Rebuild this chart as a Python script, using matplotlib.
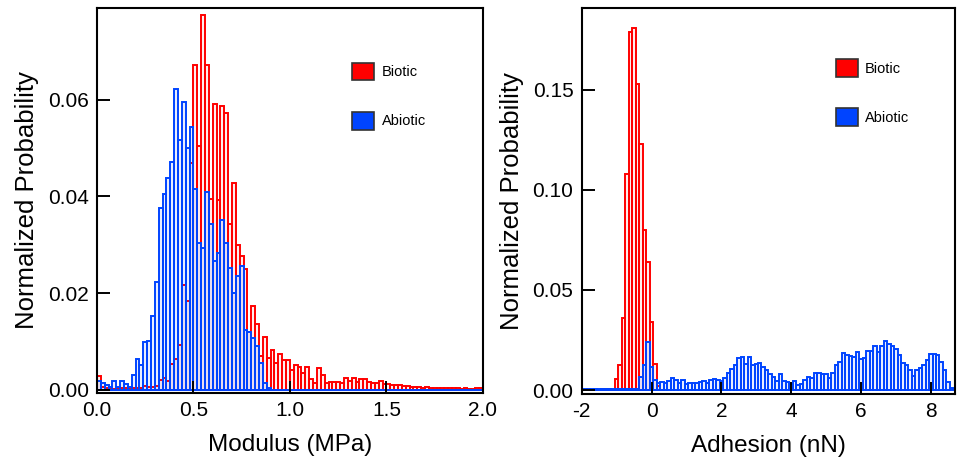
import numpy as np
import matplotlib
matplotlib.use("Agg")
import matplotlib.pyplot as plt
from matplotlib.patches import Patch

plt.rcParams["font.family"] = ["Liberation Sans", "DejaVu Sans"]
plt.rcParams["axes.unicode_minus"] = False

RED = "#ff0000"
BLUE = "#0044ff"
RED_FACE = (1.0, 0.0, 0.0, 0.07)
BLUE_FACE = (0.0, 0.27, 1.0, 0.09)

# ---- modulus histogram: bins of 0.02 MPa starting at 0 ----
MOD_BIN = 0.02
mod_biotic = [
    0.0029, 0.0005, 0.0003, 0.0002, 0.0002, 0.0004, 0.0004, 0.0004, 0.0002, 0.0003,
    0.0003, 0.0004, 0.0008, 0.0006, 0.0006, 0.0008, 0.0020, 0.0024, 0.0017, 0.0054,
    0.0063, 0.0092, 0.0217, 0.0184, 0.0469, 0.0671, 0.0504, 0.0775, 0.0671, 0.0394,
    0.0592, 0.0392, 0.0586, 0.0572, 0.0343, 0.0428, 0.0300, 0.0276, 0.0250, 0.0120,
    0.0173, 0.0135, 0.0069, 0.0110, 0.0065, 0.0083, 0.0055, 0.0073, 0.0062, 0.0062,
    0.0040, 0.0052, 0.0048, 0.0035, 0.0048, 0.0022, 0.0014, 0.0045, 0.0030, 0.0014,
    0.0015, 0.0016, 0.0015, 0.0014, 0.0024, 0.0018, 0.0024, 0.0015, 0.0022, 0.0022,
    0.0016, 0.0014, 0.0014, 0.0019, 0.0012, 0.0011, 0.0010, 0.0010, 0.0009, 0.0008,
    0.0008, 0.0006, 0.0005, 0.0005, 0.0004, 0.0005, 0.0004, 0.0003, 0.0004, 0.0004,
    0.0003, 0.0003, 0.0003, 0.0003, 0.0002, 0.0003, 0.0002, 0.0002, 0.0003, 0.0003,
]
mod_abiotic = [
    0.0017, 0.0014, 0.0010, 0.0005, 0.0017, 0.0005, 0.0017, 0.0012, 0.0005, 0.0031,
    0.0063, 0.0052, 0.0099, 0.0101, 0.0153, 0.0222, 0.0376, 0.0404, 0.0438, 0.0472,
    0.0622, 0.0517, 0.0595, 0.0500, 0.0543, 0.0415, 0.0304, 0.0294, 0.0409, 0.0342,
    0.0266, 0.0282, 0.0352, 0.0304, 0.0252, 0.0200, 0.0235, 0.0256, 0.0124, 0.0120,
    0.0107, 0.0090, 0.0055, 0.0014, 0.0003, 0.0, 0.0, 0.0, 0.0, 0.0,
    0.0, 0.0, 0.0, 0.0, 0.0, 0.0, 0.0, 0.0, 0.0, 0.0,
    0.0, 0.0, 0.0, 0.0, 0.0, 0.0, 0.0, 0.0, 0.0, 0.0,
    0.0, 0.0, 0.0, 0.0, 0.0, 0.0, 0.0, 0.0, 0.0, 0.0,
    0.0, 0.0, 0.0, 0.0, 0.0, 0.0, 0.0, 0.0, 0.0, 0.0,
    0.0, 0.0, 0.0, 0.0, 0.0, 0.0, 0.0, 0.0, 0.0, 0.0,
]

# ---- adhesion histogram: bins of 0.1 nN centred from -2.0 ----
ADH_BIN = 0.1
ADH_START = -2.0
adh_biotic = [
    0.0, 0.0, 0.0, 0.0, 0.0, 0.0, 0.0005, 0.0005, 0.0005, 0.0,
    0.0053, 0.0125, 0.0360, 0.1080, 0.1790, 0.1810, 0.1530, 0.1230, 0.0800, 0.0640,
    0.0340, 0.0130, 0.0020, 0.0,
]
adh_abiotic = [
    0.0003, 0.0003, 0.0003, 0.0003, 0.0003, 0.0003, 0.0003, 0.0003, 0.0003, 0.0003,
    0.0003, 0.0003, 0.0003, 0.0003, 0.0003, 0.0003, 0.0003, 0.0067, 0.0125, 0.0240,
    0.0115, 0.0050, 0.0033, 0.0042, 0.0033, 0.0045, 0.0058, 0.0050, 0.0037, 0.0050,
    0.0030, 0.0033, 0.0033, 0.0033, 0.0042, 0.0045, 0.0033, 0.0050, 0.0053, 0.0050,
    0.0045, 0.0058, 0.0083, 0.0104, 0.0125, 0.0159, 0.0167, 0.0130, 0.0167, 0.0125,
    0.0128, 0.0134, 0.0117, 0.0100, 0.0078, 0.0064, 0.0047, 0.0078, 0.0047, 0.0042,
    0.0028, 0.0045, 0.0025, 0.0028, 0.0050, 0.0064, 0.0058, 0.0083, 0.0083, 0.0080,
    0.0080, 0.0058, 0.0083, 0.0125, 0.0142, 0.0184, 0.0175, 0.0170, 0.0167, 0.0192,
    0.0154, 0.0159, 0.0197, 0.0197, 0.0220, 0.0192, 0.0220, 0.0247, 0.0230, 0.0220,
    0.0204, 0.0175, 0.0137, 0.0125, 0.0100, 0.0070, 0.0100, 0.0108, 0.0125, 0.0150,
    0.0180, 0.0180, 0.0175, 0.0140, 0.0100, 0.0040, 0.0010,
]

mod_ticks = [0.0, 0.5, 1.0, 1.5, 2.0]
mod_yticks = [0.00, 0.02, 0.04, 0.06]
adh_ticks = [-2, 0, 2, 4, 6, 8]
adh_yticks = [0.00, 0.05, 0.10, 0.15]


def style_axes(ax):
    for sp in ax.spines.values():
        sp.set_linewidth(1.5)
    ax.tick_params(direction="in", length=9, width=1.4, labelsize=15, pad=6,
                   top=False, right=False)
    ax.set_ylabel("Normalized Probability", fontsize=18.5, labelpad=6)


def add_legend(ax, anchor):
    handles = [Patch(facecolor=RED, edgecolor="#333333", linewidth=1.2, label="Biotic"),
               Patch(facecolor=BLUE, edgecolor="#333333", linewidth=1.2, label="Abiotic")]
    ax.legend(handles=handles, loc="upper left", bbox_to_anchor=anchor, frameon=False,
              fontsize=10.5, handlelength=1.5, handleheight=1.5, handletextpad=0.5,
              labelspacing=2.15, borderpad=0, borderaxespad=0)


fig = plt.figure(figsize=(9.6, 4.63), dpi=100)

# left: modulus
ax1 = fig.add_axes([0.101, 0.151, 0.402, 0.832])
x_mod = np.arange(len(mod_biotic)) * MOD_BIN
ax1.bar(x_mod, mod_biotic, width=MOD_BIN, align="edge", facecolor=RED_FACE,
        edgecolor=RED, linewidth=1.4)
ax1.bar(x_mod, mod_abiotic, width=MOD_BIN, align="edge", facecolor=BLUE_FACE,
        edgecolor=BLUE, linewidth=1.4)
ax1.set_xlim(0, 2.0)
ax1.set_ylim(-0.0007, 0.079)
ax1.set_xticks(mod_ticks)
ax1.set_xticklabels([f"{v:.1f}" for v in mod_ticks])
ax1.set_yticks(mod_yticks)
ax1.set_yticklabels([f"{v:.2f}" for v in mod_yticks])
ax1.set_xlabel("Modulus (MPa)", fontsize=17.5, labelpad=10)
style_axes(ax1)
add_legend(ax1, (0.662, 0.858))

# right: adhesion
ax2 = fig.add_axes([0.606, 0.149, 0.389, 0.834])
x_bio = ADH_START + np.arange(len(adh_biotic)) * ADH_BIN
x_abio = ADH_START + np.arange(len(adh_abiotic)) * ADH_BIN
ax2.bar(x_bio, adh_biotic, width=ADH_BIN, facecolor=RED_FACE, edgecolor=RED, linewidth=1.4)
ax2.bar(x_abio, adh_abiotic, width=ADH_BIN, facecolor=BLUE_FACE, edgecolor=BLUE, linewidth=1.4)
ax2.set_xlim(-2.0, 8.7)
ax2.set_ylim(-0.002, 0.191)
ax2.set_xticks(adh_ticks)
ax2.set_xticklabels([str(v) for v in adh_ticks])
ax2.set_yticks(adh_yticks)
ax2.set_yticklabels([f"{v:.2f}" for v in adh_yticks])
ax2.set_xlabel("Adhesion (nN)", fontsize=17.5, labelpad=10)
style_axes(ax2)
add_legend(ax2, (0.681, 0.868))

fig.savefig("out.png", dpi=100)
plt.close(fig)
